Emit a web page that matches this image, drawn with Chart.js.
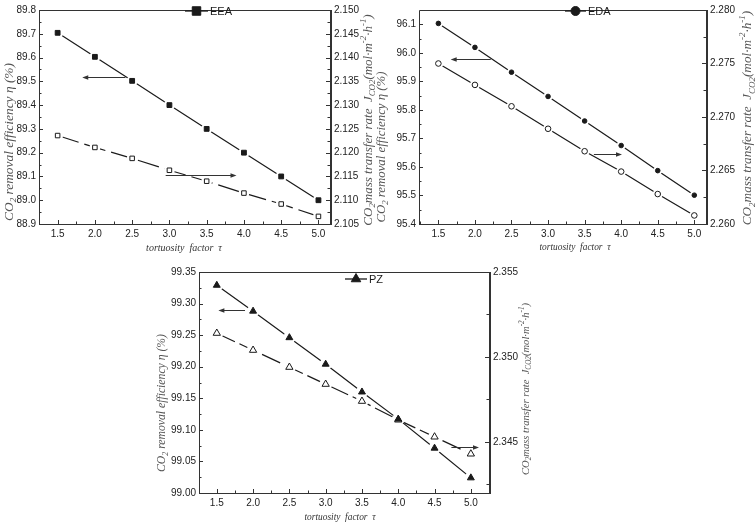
<!DOCTYPE html>
<html>
<head>
<meta charset="utf-8">
<script src="https://cdn.jsdelivr.net/npm/chart.js@4.4.1/dist/chart.umd.min.js"></script>
<style>
  body { margin: 0; background: #fff; width: 756px; height: 525px; position: relative; overflow: hidden; }
  canvas { position: absolute; }
</style>
</head>
<body>
<canvas id="c1" width="376" height="255" style="left:0;top:0"></canvas>
<canvas id="c2" width="380" height="255" style="left:376px;top:0"></canvas>
<canvas id="c3" width="450" height="270" style="left:150px;top:255px"></canvas>
<script>
/* ── Datos ───────────────────────────────────── */
const tau = [1.5, 2.0, 2.5, 3.0, 3.5, 4.0, 4.5, 5.0];

const eeaEff  = [89.704, 89.603, 89.502, 89.400, 89.300, 89.200, 89.100, 89.000];
const eeaRate = [2.1236, 2.1211, 2.1188, 2.1163, 2.1140, 2.1115, 2.1092, 2.1066];

const edaEff  = [96.103, 96.019, 95.932, 95.847, 95.761, 95.675, 95.587, 95.501];
const edaRate = [2.2750, 2.2730, 2.2710, 2.2689, 2.2668, 2.2649, 2.2628, 2.2608];

const pzEff  = [99.329, 99.288, 99.246, 99.204, 99.160, 99.117, 99.071, 99.024];
const pzRate = [2.3514, 2.3504, 2.3494, 2.3484, 2.3474, 2.3463, 2.3453, 2.3443];

const xTicks = ["1.5", "2.0", "2.5", "3.0", "3.5", "4.0", "4.5", "5.0"];
const eeaEffTicks  = ["88.9", "89.0", "89.1", "89.2", "89.3", "89.4", "89.5", "89.6", "89.7", "89.8"];
const eeaRateTicks = ["2.105", "2.110", "2.115", "2.120", "2.125", "2.130", "2.135", "2.140", "2.145", "2.150"];
const edaEffTicks  = ["95.4", "95.5", "95.6", "95.7", "95.8", "95.9", "96.0", "96.1"];
const edaRateTicks = ["2.260", "2.265", "2.270", "2.275", "2.280"];
const pzEffTicks   = ["99.00", "99.05", "99.10", "99.15", "99.20", "99.25", "99.30", "99.35"];
const pzRateTicks  = ["2.345", "2.350", "2.355"];

/* ── Utilidades ──────────────────────────────── */
const INK = "#1a1a1a";
const pts = (ys) => tau.map((t, i) => ({ x: t, y: ys[i] }));

function minors(labels, min, max) {
  const v = labels.map(Number);
  const h = (v[1] - v[0]) / 2;
  const out = [];
  for (let k = v[0] - h; k <= max + 1e-9; k += h * 2) {
    if (k > min + 1e-9 && k < max - 1e-9) out.push(k);
  }
  return out;
}

function richText(ctx, parts, x, y, rot, size, color) {
  ctx.save();
  ctx.translate(x, y);
  ctx.rotate(rot);
  const fontFor = (m) => `italic ${m ? size * 0.68 : size}px "Liberation Serif", serif`;
  let total = 0;
  parts.forEach((p) => { ctx.font = fontFor(p[1]); total += ctx.measureText(p[0]).width; });
  let cx = -total / 2;
  ctx.textBaseline = "middle";
  ctx.textAlign = "left";
  ctx.fillStyle = color;
  parts.forEach((p) => {
    ctx.font = fontFor(p[1]);
    const dy = p[1] === 1 ? size * 0.32 : p[1] === 2 ? -size * 0.38 : 0;
    ctx.fillText(p[0], cx, dy);
    cx += ctx.measureText(p[0]).width;
  });
  ctx.restore();
}

function marker(ctx, style, x, y, r, filled) {
  ctx.beginPath();
  if (style === "rect") {
    const s = r * Math.SQRT1_2;
    ctx.rect(x - s, y - s, 2 * s, 2 * s);
  } else if (style === "circle") {
    ctx.arc(x, y, r, 0, Math.PI * 2);
  } else {
    ctx.moveTo(x, y - r);
    ctx.lineTo(x + r * 0.866, y + r * 0.5);
    ctx.lineTo(x - r * 0.866, y + r * 0.5);
    ctx.closePath();
  }
  ctx.fillStyle = filled ? INK : "#fff";
  ctx.fill();
  ctx.strokeStyle = INK;
  ctx.lineWidth = 1;
  ctx.stroke();
}

const leftTitle = [["CO", 0], ["2", 1], [" removal efficiency ", 0], ["η", 0], [" (%)", 0]];
const rightTitle = [["CO", 0], ["2", 1], ["mass transfer rate  ", 0], ["J", 0], ["CO2", 1],
  ["(mol·m", 0], ["-2", 2], ["·h", 0], ["-1", 2], [")", 0]];

/* ── Plugin: marco, ticks internos, títulos, leyenda, flechas ── */
const decorPlugin = {
  id: "decor",
  afterDatasetsDraw(chart, args, o) {
    const { ctx, chartArea: a, scales } = chart;
    ctx.save();
    ctx.strokeStyle = "#333";
    ctx.lineWidth = 1;
    ctx.beginPath();
    ctx.moveTo(a.right, a.top + 0.5);
    ctx.lineTo(a.left + 0.5, a.top + 0.5);
    ctx.lineTo(a.left + 0.5, a.bottom + 0.5);
    ctx.lineTo(a.right, a.bottom + 0.5);
    ctx.stroke();
    ctx.lineWidth = 2;
    ctx.beginPath();
    ctx.moveTo(a.right + 1, a.top);
    ctx.lineTo(a.right + 1, a.bottom + 1);
    ctx.stroke();

    ctx.lineWidth = 1;
    ctx.beginPath();
    const xs = scales.x, yl = scales.y, yr = scales.y1;
    xs.ticks.forEach((t) => { const p = Math.round(xs.getPixelForValue(t.value)) + 0.5; ctx.moveTo(p, a.bottom); ctx.lineTo(p, a.bottom - 4); });
    o.xMinor.forEach((v) => { const p = Math.round(xs.getPixelForValue(v)) + 0.5; ctx.moveTo(p, a.bottom); ctx.lineTo(p, a.bottom - 2.5); });
    yl.ticks.forEach((t) => { const p = Math.round(yl.getPixelForValue(t.value)) + 0.5; ctx.moveTo(a.left, p); ctx.lineTo(a.left + 4, p); });
    o.yMinor.forEach((v) => { const p = Math.round(yl.getPixelForValue(v)) + 0.5; ctx.moveTo(a.left, p); ctx.lineTo(a.left + 2.5, p); });
    yr.ticks.forEach((t) => { const p = Math.round(yr.getPixelForValue(t.value)) + 0.5; ctx.moveTo(a.right, p); ctx.lineTo(a.right - 4, p); });
    o.y1Minor.forEach((v) => { const p = Math.round(yr.getPixelForValue(v)) + 0.5; ctx.moveTo(a.right, p); ctx.lineTo(a.right - 2.5, p); });
    ctx.stroke();

    /* flechas */
    ctx.strokeStyle = "#333";
    ctx.fillStyle = "#333";
    o.arrows.forEach((ar) => {
      const sc = scales[ar.axis];
      const y = Math.round(sc.getPixelForValue(ar.y)) + 0.5;
      const x0 = xs.getPixelForValue(ar.from), x1 = xs.getPixelForValue(ar.to);
      const d = Math.sign(x1 - x0);
      ctx.beginPath();
      ctx.moveTo(x0, y);
      ctx.lineTo(x1 - d * 4, y);
      ctx.stroke();
      ctx.beginPath();
      ctx.moveTo(x1, y);
      ctx.lineTo(x1 - d * 6, y - 2.2);
      ctx.lineTo(x1 - d * 6, y + 2.2);
      ctx.closePath();
      ctx.fill();
    });

    /* leyenda */
    const L = o.legend;
    ctx.strokeStyle = INK;
    ctx.lineWidth = 1.3;
    ctx.beginPath();
    ctx.moveTo(L.x0, L.y);
    ctx.lineTo(L.x1, L.y);
    ctx.stroke();
    marker(ctx, o.style, (L.x0 + L.x1) / 2, L.y, L.r, true);
    ctx.fillStyle = INK;
    ctx.font = '11px "Liberation Sans", Arial, sans-serif';
    ctx.textBaseline = "middle";
    ctx.textAlign = "left";
    ctx.fillText(L.text, L.tx, L.y + 0.5);

    /* títulos de ejes */
    const T = o.titles;
    richText(ctx, leftTitle, T.left[0], T.left[1], -Math.PI / 2, T.left[2], "#555");
    richText(ctx, rightTitle, T.right[0], T.right[1], -Math.PI / 2, T.right[2], "#555");
    richText(ctx, [["tortuosity  factor  τ", 0]], T.x[0], T.x[1], 0, T.x[2], "#333");
    ctx.restore();
  },
};

/* ── Fábrica de gráficos ─────────────────────── */
function makeChart(id, c) {
  const cv = document.getElementById(id);
  const W = cv.width, H = cv.height, A = c.area;
  const tickFont = { family: '"Liberation Sans", Arial, sans-serif', size: 10 };
  const fixTicks = (labels) => (s) => { s.ticks = labels.map((l) => ({ value: Number(l) })); };

  const lineSet = (ys, axis, dash, r, order) => ({
    data: pts(ys), yAxisID: axis, order,
    borderColor: INK, borderWidth: 1.2, borderDash: dash,
    pointRadius: r + 2.2, pointBackgroundColor: "#fff", pointBorderWidth: 0,
  });
  const markSet = (ys, axis, style, r, filled, order) => ({
    data: pts(ys), yAxisID: axis, order, showLine: false,
    pointStyle: style, pointRadius: r,
    pointBackgroundColor: filled ? INK : "#fff", pointBorderColor: INK, pointBorderWidth: 1,
  });

  return new Chart(cv, {
    type: "line",
    data: {
      datasets: [
        markSet(c.eff, "y", c.style, c.rEff, true, 0),
        markSet(c.rate, "y1", c.style, c.rRate, false, 1),
        lineSet(c.eff, "y", [], c.rEff, 2),
        lineSet(c.rate, "y1", c.dash, c.rRate, 3),
      ],
    },
    options: {
      responsive: false,
      animation: false,
      layout: { padding: { top: A.top, left: 0, right: 0, bottom: 0 } },
      scales: {
        x: {
          type: "linear", min: c.xMin, max: c.xMax,
          afterBuildTicks: fixTicks(xTicks),
          afterFit: (s) => { s.height = H - A.bottom; },
          ticks: { color: "#222", font: tickFont, padding: 4, maxRotation: 0, autoSkip: false, callback: (v, i) => xTicks[i] },
          grid: { display: false, drawTicks: false }, border: { display: false },
        },
        y: {
          position: "left", min: c.yMin, max: c.yMax,
          afterBuildTicks: fixTicks(c.yTicks),
          afterFit: (s) => { s.width = A.left; },
          ticks: { color: "#222", font: tickFont, padding: 3, autoSkip: false, callback: (v, i) => c.yTicks[i] },
          grid: { display: false, drawTicks: false }, border: { display: false },
        },
        y1: {
          position: "right", min: c.y1Min, max: c.y1Max,
          afterBuildTicks: fixTicks(c.y1Ticks),
          afterFit: (s) => { s.width = W - A.right; },
          ticks: { color: "#222", font: tickFont, padding: 4, autoSkip: false, callback: (v, i) => c.y1Ticks[i] },
          grid: { display: false, drawTicks: false }, border: { display: false },
        },
      },
      plugins: {
        legend: { display: false },
        tooltip: { enabled: false },
        decor: {
          xMinor: minors(xTicks, c.xMin, c.xMax),
          yMinor: minors(c.yTicks, c.yMin, c.yMax),
          y1Minor: minors(c.y1Ticks, c.y1Min, c.y1Max),
          arrows: c.arrows, legend: c.legend, style: c.style, titles: c.titles,
        },
      },
    },
    plugins: [decorPlugin],
  });
}

/* ── EEA ─────────────────────────────────────── */
makeChart("c1", {
  area: { left: 39, right: 330, top: 5, bottom: 224 },
  xMin: 1.25, xMax: 5.155,
  yMin: 88.9, yMax: 89.8, yTicks: eeaEffTicks,
  y1Min: 2.105, y1Max: 2.150, y1Ticks: eeaRateTicks,
  eff: eeaEff, rate: eeaRate, style: "rect", rEff: 3.4, rRate: 3.2, dash: [22, 6],
  arrows: [
    { axis: "y", y: 89.52, from: 2.41, to: 1.83 },
    { axis: "y1", y: 2.1153, from: 2.95, to: 3.90 },
  ],
  legend: { x0: 185, x1: 208, y: 11, tx: 210, r: 6, text: "EEA" },
  titles: { left: [9, 142, 13.4], right: [369, 120, 13], x: [184, 248, 10] },
});

/* ── EDA ─────────────────────────────────────── */
makeChart("c2", {
  area: { left: 43, right: 330, top: 5, bottom: 224 },
  xMin: 1.235, xMax: 5.16,
  yMin: 95.4, yMax: 96.15, yTicks: edaEffTicks,
  y1Min: 2.260, y1Max: 2.280, y1Ticks: edaRateTicks,
  eff: edaEff, rate: edaRate, style: "circle", rEff: 2.3, rRate: 2.8, dash: [],
  arrows: [
    { axis: "y", y: 95.978, from: 2.216, to: 1.668 },
    { axis: "y1", y: 2.2665, from: 3.627, to: 4.011 },
  ],
  legend: { x0: 189, x1: 210, y: 11, tx: 212, r: 4.5, text: "EDA" },
  titles: { left: [6, 147, 12.8], right: [372, 118, 13.2], x: [199, 248, 9.4] },
});

/* ── PZ ──────────────────────────────────────── */
makeChart("c3", {
  area: { left: 49, right: 339, top: 17, bottom: 238 },
  xMin: 1.255, xMax: 5.25,
  yMin: 99.00, yMax: 99.35, yTicks: pzEffTicks,
  y1Min: 2.342, y1Max: 2.355, y1Ticks: pzRateTicks,
  eff: pzEff, rate: pzRate, style: "triangle", rEff: 4, rRate: 4.2, dash: [20, 5],
  arrows: [
    { axis: "y", y: 99.29, from: 1.889, to: 1.522 },
    { axis: "y1", y: 2.3447, from: 4.732, to: 5.112 },
  ],
  legend: { x0: 195, x1: 217, y: 24, tx: 219, r: 5.5, text: "PZ" },
  titles: { left: [12, 148, 11.7], right: [376, 134, 10.6], x: [190, 263, 9.4] },
});
</script>
</body>
</html>
